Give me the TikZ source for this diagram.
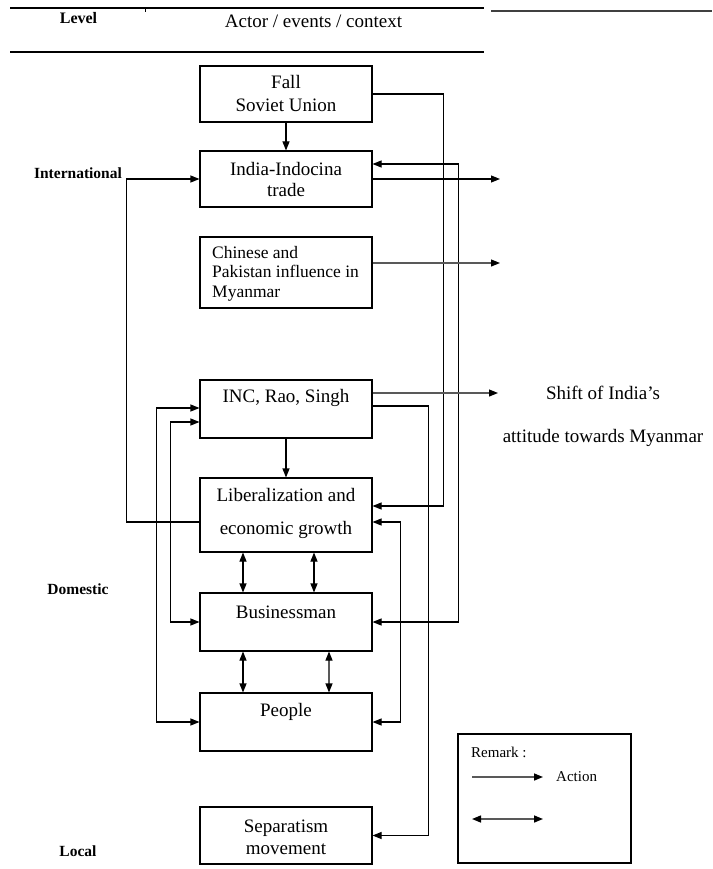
\documentclass[tikz,border=0pt]{standalone}
\usepackage{fontspec}
\setmainfont{Liberation Serif}
\usetikzlibrary{arrows.meta}
\begin{document}
\begin{tikzpicture}[x=1pt,y=-1pt,
  box/.style={draw,line width=1.1pt,minimum width=172pt,inner sep=0pt},
  btxt/.style={font=\fontsize{19}{23}\selectfont,align=center,inner sep=0pt},
  lvl/.style={font=\bfseries\fontsize{15.5}{18}\selectfont,inner sep=0pt},
  ln/.style={line width=1.1pt},
  arr/.style={ln,-{Triangle[length=9pt,width=7pt,color=black]}},
  darr/.style={ln,{Triangle[length=9pt,width=7pt,color=black]}-{Triangle[length=9pt,width=7pt,color=black]}},
  garr/.style={arr,draw=black!65},
  gdarr/.style={darr,draw=black!65},
]
\useasboundingbox (0,0) rectangle (712,869);

% header
\draw[ln] (10,8) -- (484,8);
\draw[line width=1.5pt,black!75] (491,11) -- (712,11);
\draw[line width=0.8pt] (145,8) -- (145,12);
\draw[ln] (10,52) -- (484,52);
\node[font=\bfseries\fontsize{16}{18}\selectfont,inner sep=0pt] (lev) at (78.5,18) {Level};
\node[btxt] (hdr) at (313.5,21) {Actor / events / context};

% level labels
\node[lvl] (intl) at (78,173) {International};
\node[lvl] (dom) at (78,589) {Domestic};
\node[lvl] (loc) at (78,851) {Local};

% boxes
\node[box,minimum height=56pt] (fall) at (286,94) {};
\node[box,minimum height=56pt] (india) at (286,179) {};
\node[box,minimum height=71pt] (chin) at (286,272.5) {};
\node[box,minimum height=58pt] (inc) at (286,409) {};
\node[box,minimum height=74pt] (lib) at (286,515) {};
\node[box,minimum height=58pt] (bus) at (286,622) {};
\node[box,minimum height=58pt] (peop) at (286,722) {};
\node[box,minimum height=57pt] (sep) at (286,835.5) {};

% box texts
\node[btxt] (fallt) at (286,93.5) {Fall\\Soviet Union};
\node[btxt,font=\fontsize{19}{20.5}\selectfont] (indiat) at (286,179.5) {India-Indocina\\trade};
\node[btxt,font=\fontsize{17.5}{19.5}\selectfont,align=left,anchor=west] (chint) at (212,273.5) {Chinese and\\Pakistan influence in\\Myanmar};
\node[btxt] (inct) at (286,398) {INC, Rao, Singh};
\node[btxt,font=\fontsize{19}{33}\selectfont] (libt) at (286,513.5) {Liberalization and\\economic growth};
\node[btxt] (bust) at (286,612) {Businessman};
\node[btxt] (peopt) at (286,712) {People};
\node[btxt,font=\fontsize{19}{22}\selectfont] (sept) at (286,837) {Separatism\\movement};

% outcome text
\node[btxt] (shift1) at (603,393) {Shift of India’s};
\node[btxt] (shift2) at (603,438) {attitude towards Myanmar};

% free ends
\coordinate (o1) at (500,179);
\coordinate (o2) at (500,263);
\coordinate (o3) at (498,393);

% connectors
\draw[arr] (fall) -- (india);
\draw[arr] (inc) -- (lib);
\draw[arr] (fall.east) -- ++(71,0) |- ([yshift=9pt]lib.east);
\draw[darr] ([yshift=15pt]india.east) -- ++(86,0) |- (bus.east);
\draw[arr] (india.east) -- (o1);
\draw[garr] ([yshift=9.5pt]chin.east) -- (o2);
\draw[garr] ([yshift=16pt]inc.east) -- (o3);
\draw[arr] ([yshift=3pt]inc.east) -- ++(56,0) |- (sep.east);
\draw[arr] ([yshift=-7pt]lib.west) -- ++(-73,0) |- (india.west);
\draw[darr] ([yshift=1pt]inc.west) -- ++(-43,0) |- (peop.west);
\draw[darr] ([yshift=-13pt]inc.west) -- ++(-29,0) |- (bus.west);
\draw[darr] ([yshift=-7pt]lib.east) -- ++(28,0) |- (peop.east);
\draw[darr] ([xshift=-43pt]lib.south) -- ([xshift=-43pt]bus.north);
\draw[darr] ([xshift=28pt]lib.south) -- ([xshift=28pt]bus.north);
\draw[darr] ([xshift=-43pt]bus.south) -- ([xshift=-43pt]peop.north);
\draw[gdarr] ([xshift=43pt]bus.south) -- ([xshift=43pt]peop.north);

% remark box
\node[draw,line width=1.1pt,minimum width=173pt,minimum height=129pt,inner sep=0pt] (rem) at (544.5,798.5) {};
\node[font=\fontsize{15}{18}\selectfont,anchor=west,inner sep=0pt] (remt) at (471,752) {Remark :};
\node[font=\fontsize{15}{18}\selectfont,anchor=west,inner sep=0pt] (act) at (556,777) {Action};
\coordinate (la) at (472,777);
\coordinate (lb) at (543,777);
\coordinate (lc) at (472,819);
\coordinate (ld) at (543,819);
\draw[garr,line width=1.5pt] (la) -- (lb);
\draw[gdarr,line width=1.5pt] (lc) -- (ld);
\end{tikzpicture}
\end{document}
